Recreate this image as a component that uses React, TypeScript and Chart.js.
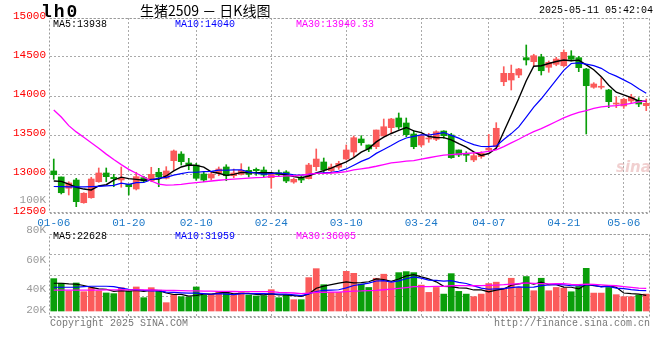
import React, { useEffect, useRef } from 'react';
import { Chart, registerables } from 'chart.js';

Chart.register(...registerables);

// ---------------- DATA ----------------
const dates = [
  '01-06','01-07','01-08','01-09','01-10','01-13','01-14','01-15','01-16','01-17',
  '01-20','01-21','01-22','01-23','01-24','01-27','02-05','02-06','02-07','02-10',
  '02-11','02-12','02-13','02-14','02-17','02-18','02-19','02-20','02-21','02-24',
  '02-25','02-26','02-27','02-28','03-03','03-04','03-05','03-06','03-07','03-10',
  '03-11','03-12','03-13','03-14','03-17','03-18','03-19','03-20','03-21','03-24',
  '03-25','03-26','03-27','03-28','03-31','04-01','04-02','04-03','04-07','04-08',
  '04-09','04-10','04-11','04-14','04-15','04-16','04-17','04-18','04-21','04-22',
  '04-23','04-24','04-25','04-28','04-29','04-30','05-06','05-07','05-08','05-09',
];
const tickDates = ['01-06','01-20','02-10','02-24','03-10','03-24','04-07','04-21','05-06'];

const opens = [
  13039,12962,12817,12923,12632,12696,12901,13013,12958,12923,
  12868,12808,12953,12914,13022,12945,13171,13256,13141,13115,
  13000,12949,13009,13090,12978,12996,13047,13060,13051,12953,
  13017,13026,12897,12945,12940,13094,13154,13042,13086,13192,
  13282,13449,13372,13350,13487,13594,13718,13654,13513,13372,
  13449,13445,13551,13500,13308,13253,13180,13222,13308,13350,
  14183,14205,14269,14491,14440,14500,14368,14406,14388,14513,
  14491,14346,14112,14112,14077,13897,13872,13936,13945,13876,
];
const highs = [
  13192,12962,12901,12945,12760,12958,13077,13077,12996,13090,
  12868,13022,12971,13086,13073,13094,13308,13286,13201,13137,
  13022,13030,13090,13119,13064,13132,13090,13077,13090,13022,
  13051,13043,12945,12974,13137,13321,13205,13128,13163,13372,
  13487,13491,13372,13564,13705,13714,13782,13718,13555,13509,
  13522,13555,13555,13522,13308,13286,13265,13286,13509,13658,
  14376,14397,14355,14654,14535,14535,14449,14496,14590,14581,
  14509,14355,14171,14235,14086,13991,13971,14022,13978,13962,
];
const lows = [
  12932,12744,12731,12581,12625,12689,12894,12901,12837,12830,
  12731,12795,12897,12901,12837,12936,13055,13115,13055,12919,
  12901,12923,12978,12914,12953,12987,12962,12983,12962,12817,
  12978,12889,12881,12889,12936,13042,13017,13013,13060,13180,
  13222,13368,13286,13325,13487,13517,13573,13478,13324,13350,
  13406,13427,13458,13201,13222,13158,13158,13201,13286,13342,
  14132,14077,14235,14397,14388,14269,14304,14388,14376,14449,
  14312,13513,14099,14090,13850,13850,13842,13914,13863,13812,
];
const closes = [
  12991,12760,12885,12645,12753,12936,13013,12966,12940,12945,
  12837,12966,12910,12996,12962,13039,13295,13158,13119,12945,
  12923,13000,13064,12978,13013,13047,12996,13043,12987,13009,
  12991,12910,12932,12923,13115,13192,13051,13090,13137,13308,
  13465,13401,13321,13564,13606,13705,13603,13504,13350,13487,
  13461,13542,13491,13209,13244,13240,13235,13265,13330,13586,
  14291,14291,14346,14462,14517,14324,14432,14474,14560,14471,
  14363,14132,14154,14120,13927,13910,13958,13987,13897,13906,
];
const volumes = [
  51300,44000,31700,44400,30600,37000,31700,28600,27500,37000,
  31700,38100,21100,37000,32900,13200,26500,22700,22200,38100,
  24900,26500,30600,29000,24900,29000,25400,23800,24300,33800,
  21100,24900,17900,17900,52900,67100,41700,29500,29500,62900,
  59700,42500,37300,51900,58300,45100,60800,62400,60800,41000,
  29500,37300,26800,59200,31100,26800,22700,26800,43500,45700,
  36200,51900,37300,54600,32100,51900,32100,37300,36200,30500,
  38900,67600,28400,28400,37300,25900,22700,22700,25200,26800,
];

// Moving-average values for the days before enough history is shown
const ma5Head = [12910, 12905, 12870, 12830];
const ma10Head = [12840, 12838, 12836, 12834, 12834, 12838, 12842, 12848, 12855];
const ma30Head = [
  13820, 13730, 13620, 13540, 13470, 13400, 13330, 13255, 13185, 13120,
  13060, 13010, 12960, 12910, 12870, 12858, 12860, 12868, 12880, 12890,
  12900, 12910, 12920, 12928, 12934, 12940, 12948, 12953, 12957,
];
const vma5Head = [44000, 44000, 43000, 42500];
const vma10Head = [37600, 37600, 37600, 37600, 38500, 39200, 39200, 39200, 38500];
const vma30Head = [
  33000, 33000, 33000, 33000, 33000, 33000, 33200, 33400, 33500, 33500,
  33500, 33500, 33500, 33300, 33000, 32800, 32500, 32200, 32000, 31800,
  31600, 31400, 31200, 31000, 30900, 30800, 30700, 30600, 30600,
];

const priceMin = 12500;
const priceMax = 15000;
const priceStep = 500;
const volTickLabels = ['100K', '80K', '60K', '40K', '20K'];

const headerTitle = 'lh0';
const chartTitle = '生猪2509 － 日K线图';
const stamp = '2025-05-11 05:42:04';
const priceLegend = ['MA5:13938', 'MA10:14040', 'MA30:13940.33'];
const volLegend = ['MA5:22628', 'MA10:31959', 'MA30:36005'];

// ---------------- HELPERS ----------------
const RED = '#fb5b5b';
const GREEN = '#0a9e0a';
const GRID = '#aaaaaa';
const MONO = '"Liberation Mono", "DejaVu Sans Mono", monospace';

function movingAvg(src: number[], n: number, head: number[]) {
  return src.map((_, i) => {
    if (i < n - 1) return head[i];
    let s = 0;
    for (let k = i - n + 1; k <= i; k++) s += src[k];
    return s / n;
  });
}

const candleColors = closes.map((c, i) => (c >= opens[i] ? RED : GREEN));

const framePlugin = {
  id: 'frame',
  beforeDatasetsDraw(chart: any) {
    const { ctx, chartArea } = chart;
    const { left, top, right, bottom } = chartArea;
    ctx.save();
    ctx.strokeStyle = '#999999';
    ctx.lineWidth = 1;
    ctx.setLineDash([2, 2]);
    ctx.strokeRect(Math.round(left) - 0.5, Math.round(top) + 0.5, Math.round(right - left), Math.round(bottom - top) - 1);
    ctx.restore();
  },
};

const gridColor = (c: any) => {
  const d = dates[c.index];
  return c.index > 0 && tickDates.includes(d) ? GRID : 'rgba(0,0,0,0)';
};

export default function App() {
  const priceRef = useRef<HTMLCanvasElement>(null);
  const volRef = useRef<HTMLCanvasElement>(null);

  useEffect(() => {
    document.body.style.margin = '0';
    const lineDs = (data: number[], color: string, w = 1.2) => ({
      type: 'line' as const,
      data,
      borderColor: color,
      borderWidth: w,
      pointRadius: 0,
      tension: 0,
      order: 0,
    });

    const price = new Chart(priceRef.current!, {
      type: 'bar',
      data: {
        labels: dates,
        datasets: [
          {
            type: 'bar',
            data: lows.map((l, i) => [l, highs[i]]) as any,
            backgroundColor: candleColors,
            barThickness: 1,
            grouped: false,
            order: 2,
          } as any,
          {
            type: 'bar',
            data: opens.map((o, i) => [o, closes[i]]) as any,
            backgroundColor: candleColors,
            barThickness: 6,
            minBarLength: 1,
            grouped: false,
            order: 1,
          } as any,
          lineDs(movingAvg(closes, 30, ma30Head), '#ff00ff', 1.3),
          lineDs(movingAvg(closes, 10, ma10Head), '#0000ff', 1.2),
          lineDs(movingAvg(closes, 5, ma5Head), '#000000', 1.4),
        ],
      },
      options: {
        animation: false,
        responsive: false,
        maintainAspectRatio: false,
        layout: { padding: { top: 18, right: 10, left: 0, bottom: 0 } },
        plugins: { legend: { display: false }, tooltip: { enabled: false } },
        scales: {
          x: {
            type: 'category',
            offset: true,
            grid: { offset: false, color: gridColor, drawTicks: false, lineWidth: 1 },
            border: { display: false, dash: [2, 2] },
            ticks: {
              autoSkip: false,
              maxRotation: 0,
              minRotation: 0,
              padding: 3,
              color: '#1c78c8',
              font: { family: MONO, size: 11 },
              callback: (_v: any, i: number) => (tickDates.includes(dates[i]) ? dates[i] : ''),
            },
            afterFit: (s: any) => { s.height = 17; },
          },
          y: {
            min: priceMin,
            max: priceMax,
            grid: { color: GRID, drawTicks: false },
            border: { display: false, dash: [2, 2] },
            ticks: {
              stepSize: priceStep,
              padding: 4,
              labelOffset: -2,
              color: '#ff0000',
              font: { family: MONO, size: 11 },
              callback: (v: any) => String(v),
            },
            afterFit: (s: any) => { s.width = 50; },
          },
        },
      } as any,
      plugins: [framePlugin],
    });

    const volMin = -9500;
    const volMax = 122000;
    const vol = new Chart(volRef.current!, {
      type: 'bar',
      data: {
        labels: dates,
        datasets: [
          {
            type: 'bar',
            data: volumes,
            backgroundColor: candleColors,
            barThickness: 6,
            order: 1,
          } as any,
          lineDs(movingAvg(volumes, 30, vma30Head), '#ff00ff', 1.3),
          lineDs(movingAvg(volumes, 10, vma10Head), '#0000ff', 1.2),
          lineDs(movingAvg(volumes, 5, vma5Head), '#000000', 1.2),
        ],
      },
      options: {
        animation: false,
        responsive: false,
        maintainAspectRatio: false,
        layout: { padding: { top: 8, right: 10, left: 0, bottom: 9 } },
        plugins: { legend: { display: false }, tooltip: { enabled: false } },
        scales: {
          x: {
            type: 'category',
            offset: true,
            grid: { offset: false, color: gridColor, drawTicks: false },
            border: { display: false, dash: [2, 2] },
            ticks: { display: false },
            afterFit: (s: any) => { s.height = 0; },
          },
          y: {
            min: volMin,
            max: volMax,
            grid: { color: GRID, drawTicks: false },
            border: { display: false, dash: [2, 2] },
            ticks: { display: false },
            afterBuildTicks: (s: any) => {
              s.ticks = [0, 1, 2, 3, 4].map((k) => ({ value: volMin + (k * (volMax - volMin)) / 4 }));
            },
            afterFit: (s: any) => { s.width = 50; },
          },
        },
      } as any,
      plugins: [framePlugin],
    });

    return () => {
      price.destroy();
      vol.destroy();
    };
  }, []);

  const abs = (style: React.CSSProperties): React.CSSProperties => ({
    position: 'absolute',
    whiteSpace: 'nowrap',
    lineHeight: 1,
    ...style,
  });
  const volLabelY = [195, 225, 255, 284, 305];
  const legendX = [53, 175, 296];
  const legendColors = ['#000000', '#0000ff', '#ff00ff'];

  return (
    <div style={{ position: 'relative', width: 660, height: 360, background: '#ffffff', overflow: 'hidden' }}>
      <canvas ref={priceRef} width={660} height={230} style={{ position: 'absolute', left: 0, top: 0 }} />
      <canvas ref={volRef} width={660} height={100} style={{ position: 'absolute', left: 0, top: 226 }} />

      <div style={abs({ left: 41, top: 3, fontFamily: '"Liberation Mono", monospace', fontWeight: 'bold', fontSize: 18, letterSpacing: 2, color: '#000' })}>
        {headerTitle}
      </div>
      <div style={abs({ left: 140, top: 3, fontFamily: '"Noto Sans CJK SC", sans-serif', fontSize: 14, color: '#000' })}>
        {chartTitle}
      </div>
      <div style={abs({ left: 539, top: 6, fontFamily: MONO, fontSize: 10, color: '#000' })}>{stamp}</div>

      {priceLegend.map((t, i) => (
        <div key={'pl' + i} style={abs({ left: legendX[i], top: 20, fontFamily: MONO, fontSize: 10, color: legendColors[i] })}>{t}</div>
      ))}
      {volLegend.map((t, i) => (
        <div key={'vl' + i} style={abs({ left: legendX[i], top: 232, fontFamily: MONO, fontSize: 10, color: legendColors[i] })}>{t}</div>
      ))}
      {volTickLabels.map((t, i) => (
        <div key={'vt' + i} style={abs({ right: 614, top: volLabelY[i], fontFamily: MONO, fontSize: 11, color: '#9a9a9a', textAlign: 'right' })}>{t}</div>
      ))}

      <div style={abs({ left: 616, top: 160, fontFamily: 'Verdana, "DejaVu Sans", sans-serif', fontStyle: 'italic', fontWeight: 'bold', fontSize: 15, color: 'rgba(230,170,170,0.55)' })}>
        sina
      </div>

      <div style={abs({ left: 50, top: 319, fontFamily: MONO, fontSize: 10, color: '#777' })}>Copyright 2025 SINA.COM</div>
      <div style={abs({ right: 10, top: 319, fontFamily: MONO, fontSize: 10, color: '#777' })}>http://finance.sina.com.cn</div>
    </div>
  );
}
